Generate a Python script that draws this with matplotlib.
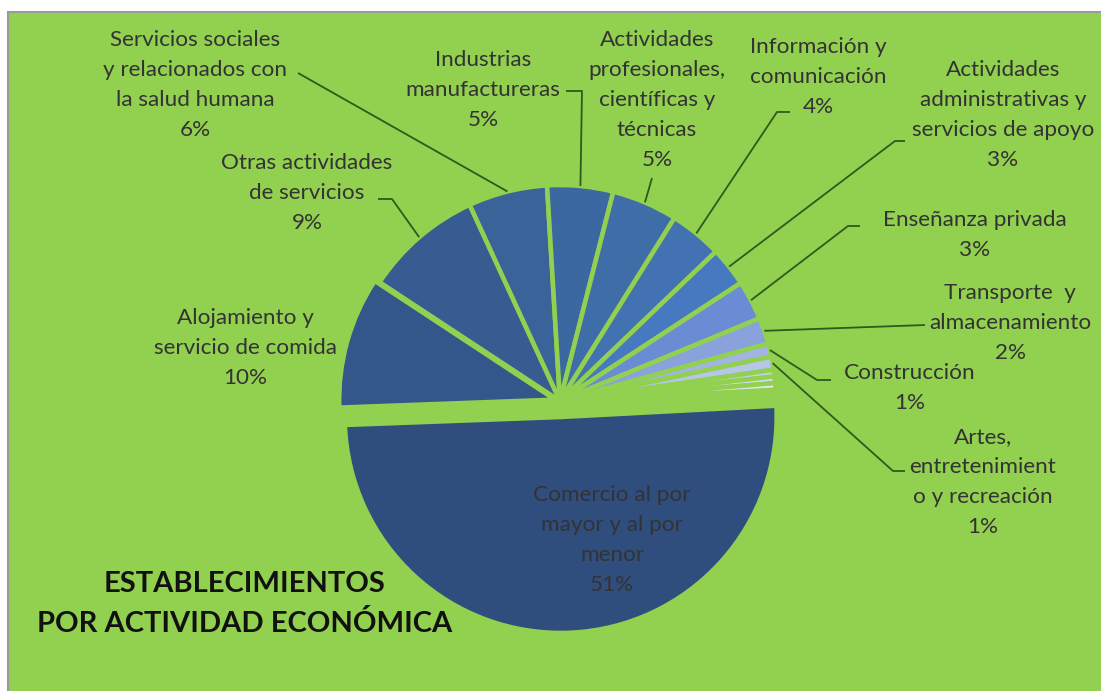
import numpy as np
import matplotlib
matplotlib.use("Agg")
import matplotlib.pyplot as plt
from matplotlib.patches import Rectangle

W, H = 1101, 691

# ---- data ----
categories = [
    "Comercio al por\nmayor y al por\nmenor",
    "Alojamiento y\nservicio de comida",
    "Otras actividades\nde servicios",
    "Servicios sociales\ny relacionados con\nla salud humana",
    "Industrias\nmanufactureras",
    "Actividades\nprofesionales,\ncientíficas y\ntécnicas",
    "Información y\ncomunicación",
    "Actividades\nadministrativas y\nservicios de apoyo",
    "Enseñanza privada",
    "Transporte  y\nalmacenamiento",
    "Construcción",
    "Artes,\nentretenimient\no y recreación",
    "", "", "",
]
values = [51, 10, 9, 6, 5, 5, 4, 3, 3, 2, 1, 1, 0.5, 0.5, 0.5]
pct_labels = ["51%", "10%", "9%", "6%", "5%", "5%", "4%", "3%", "3%", "2%", "1%", "1%", "", "", ""]

# ---- style ----
BG = "#92D050"
LINE = "#2f5a1c"
TXT = "#333333"
colors = ["#2F4E7D", "#33578A", "#365C92", "#3A6399", "#3C68A1", "#3F6DA8",
          "#4272B1", "#4679C0", "#6A8CD4", "#8AA2DC", "#A2B4E2", "#B6C5E8",
          "#C6D2EE", "#D3DDF2", "#E0E7F6"]
explode = [16, 5, 0, 0, 0, 0, 0, 0, 0, 0, 0, 0, 0, 0, 0]

fig = plt.figure(figsize=(W / 100, H / 100), dpi=100)
fig.patch.set_facecolor("white")
ax = fig.add_axes([0, 0, 1, 1])
ax.add_patch(Rectangle((8, -5), W, H - 12 + 5, facecolor=BG, edgecolor="#9a9a9a", lw=1.5, zorder=0))

wedges, _ = ax.pie(values, colors=colors, startangle=3, counterclock=False,
                   explode=explode, radius=216, center=(560, H - 401),
                   wedgeprops=dict(edgecolor=BG, linewidth=3.3))
ax.set_xlim(0, W)
ax.set_ylim(0, H)
ax.axis("off")

FONT = ["Lato", "DejaVu Sans"]
FS = 16.2

# label positions (pixel centre x, centre y of text block)
label_pos = {
    0: (612, 540),
    1: (245, 348),
    2: (307, 193),
    3: (195, 85),
    4: (483, 90),
    5: (657, 100),
    6: (818, 77),
    7: (1003, 115),
    8: (975, 235),
    9: (1010, 323),
    10: (910, 388),
    11: (983, 482),
}
for i, (x, y) in label_pos.items():
    ax.text(x, H - y, categories[i] + "\n" + pct_labels[i], ha="center", va="center",
            fontsize=FS, family=FONT, color=TXT, linespacing=1.62, zorder=5)

# leader lines: label-side points, ending at the slice edge
leaders = {
    2: [(378, 199), (392, 199)],
    3: [(298, 73)],
    4: [(566, 91), (582, 91)],
    5: [(652, 178)],
    6: [(790, 112), (777, 112)],
    7: [(905, 141), (895, 141)],
    8: [(860, 226), (848, 226)],
    9: [(925, 325)],
    10: [(831, 380), (817, 380)],
    11: [(905, 471), (893, 471)],
}
for i, pts in leaders.items():
    w = wedges[i]
    th = np.deg2rad((w.theta1 + w.theta2) / 2)
    cx, cy = w.center
    ex, ey = cx + w.r * np.cos(th), cy + w.r * np.sin(th)
    xs = [p[0] for p in pts] + [ex]
    ys = [H - p[1] for p in pts] + [ey]
    ax.plot(xs, ys, color=LINE, lw=1.3, zorder=4, solid_capstyle="butt")

ax.text(245, H - 604, "ESTABLECIMIENTOS\nPOR ACTIVIDAD ECONÓMICA", ha="center", va="center",
        fontsize=21, fontweight="bold", family=FONT, color="#111111", linespacing=1.6, zorder=5)

fig.savefig("out.png", dpi=100, facecolor="white")
